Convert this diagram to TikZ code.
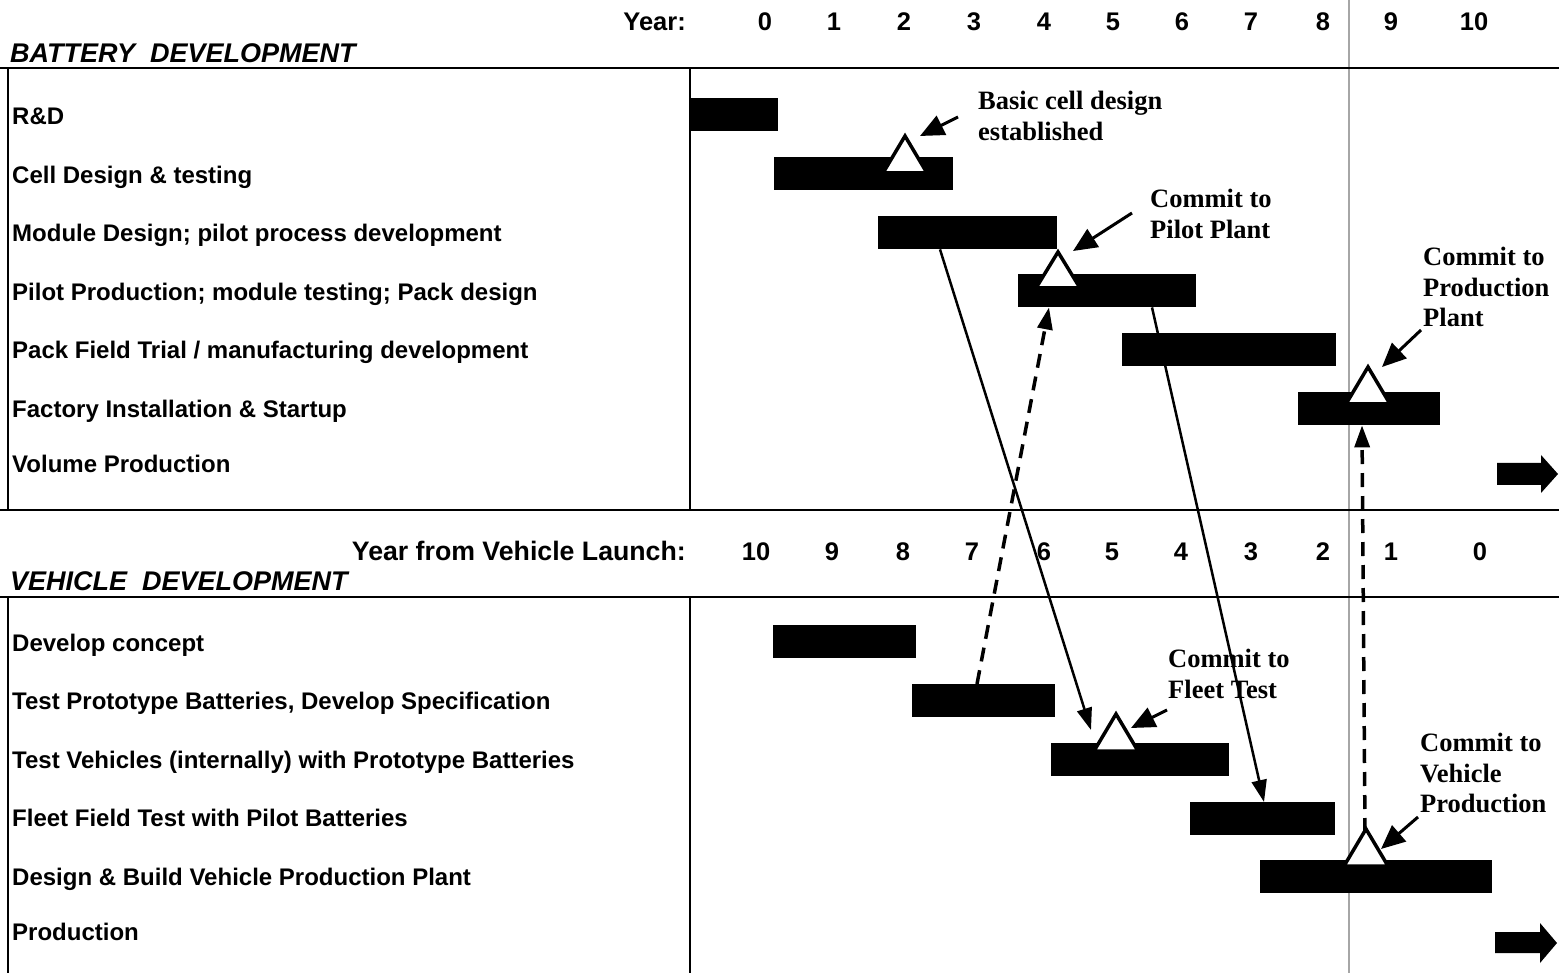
\documentclass[tikz,border=0pt]{standalone}
\usepackage{fontspec}
\setmainfont{Liberation Sans}
\newfontfamily\notefont{Liberation Serif}
\usetikzlibrary{positioning,arrows.meta}

\newcommand{\rowfont}{\fontsize{24}{28}\selectfont\bfseries}
\newcommand{\yearfont}{\fontsize{25.5}{30}\selectfont\bfseries}
\newcommand{\headfont}{\fontsize{27}{30}\selectfont\bfseries\itshape}
\newcommand{\milefont}{\fontsize{26.5}{30.5}\selectfont\notefont\bfseries}

\begin{document}
\begin{tikzpicture}[x=1pt, y=-1pt, >={Triangle[length=22pt,width=15pt]},
    frame/.style={line width=2.5pt},
    rowlabel/.style={anchor=base west, inner sep=0pt, font=\rowfont},
    yr/.style={anchor=base, inner sep=0pt, font=\yearfont},
    head/.style={anchor=base west, inner sep=0pt, font=\headfont},
    bar/.style={fill=black, anchor=north west, minimum height=33pt, inner sep=0pt},
    milestone/.style={draw=black, fill=white, line width=3.5pt},
    note/.style={anchor=north west, align=left, inner sep=0pt, font=\milefont},
    callout/.style={->, line width=3pt, >={Triangle[length=24pt,width=21pt]}},
    link/.style={->, line width=2.5pt},
    dlink/.style={->, line width=3.5pt, dash pattern=on 14pt off 9pt}]

\useasboundingbox (0,0) rectangle (1559,973);

% launch line through both charts
\draw[gray!70, line width=1.5pt] (1349,0) -- (1349,973);

% battery chart frame
\draw[frame] (0,68) -- (1559,68);
\draw[frame] (0,510) -- (1559,510);
\draw[frame] (8,68) -- (8,510);
\draw[frame] (690,68) -- (690,510);

% vehicle chart frame
\draw[frame] (0,597) -- (1559,597);
\draw[frame] (8,597) -- (8,973);
\draw[frame] (690,597) -- (690,973);

% year scale
\node[yr, anchor=base east] (yearlbl) at (686,31) {Year:};
\node[yr] (y0) at (765,31) {0};
\node[yr] (y1) at (834,31) {1};
\node[yr] (y2) at (904,31) {2};
\node[yr] (y3) at (974,31) {3};
\node[yr] (y4) at (1044,31) {4};
\node[yr] (y5) at (1113,31) {5};
\node[yr] (y6) at (1182,31) {6};
\node[yr] (y7) at (1251,31) {7};
\node[yr] (y8) at (1323,31) {8};
\node[yr] (y9) at (1391,31) {9};
\node[yr] (y10) at (1474,31) {10};

\node[yr, anchor=base east, font=\fontsize{26.7}{30}\selectfont\bfseries] (launchlbl) at (686,560) {Year from Vehicle Launch:};
\node[yr] (v10) at (756,560) {10};
\node[yr] (v9) at (832,560) {9};
\node[yr] (v8) at (903,560) {8};
\node[yr] (v7) at (972,560) {7};
\node[yr] (v6) at (1044,560) {6};
\node[yr] (v5) at (1112,560) {5};
\node[yr] (v4) at (1181,560) {4};
\node[yr] (v3) at (1251,560) {3};
\node[yr] (v2) at (1323,560) {2};
\node[yr] (v1) at (1391,560) {1};
\node[yr] (v0) at (1480,560) {0};

% section headings
\node[head] (battery) at (10,63) {BATTERY\ \ DEVELOPMENT};
\node[head] (vehicle) at (10,590) {VEHICLE\ \ DEVELOPMENT};

% battery tasks
\node[rowlabel] (lrd) at (12,125) {R\&D};
\node[rowlabel] (lcell) at (12,184) {Cell Design \& testing};
\node[rowlabel] (lmodule) at (12,242) {Module Design; pilot process development};
\node[rowlabel] (lpilot) at (12,301) {Pilot Production; module testing; Pack design};
\node[rowlabel] (lpack) at (12,359) {Pack Field Trial / manufacturing development};
\node[rowlabel] (lfactory) at (12,418) {Factory Installation \& Startup};
\node[rowlabel] (lvolume) at (12,472) {Volume Production};

\node[bar, minimum width=88pt] (rd) at (690,98) {};
\node[bar, minimum width=179pt] (cell) at (774,157) {};
\node[bar, minimum width=179pt] (module) at (878,216) {};
\node[bar, minimum width=178pt] (pilot) at (1018,274) {};
\node[bar, minimum width=214pt] (pack) at (1122,333) {};
\node[bar, minimum width=142pt] (factory) at (1298,392) {};
\fill (1497,463) -- (1541,463) -- (1541,455) -- (1558,474) -- (1541,493) -- (1541,485) -- (1497,485) -- cycle;

% vehicle tasks
\node[rowlabel] (lconcept) at (12,651) {Develop concept};
\node[rowlabel] (lproto) at (12,709) {Test Prototype Batteries, Develop Specification};
\node[rowlabel] (ltestveh) at (12,768) {Test Vehicles (internally) with Prototype Batteries};
\node[rowlabel] (lfleet) at (12,826) {Fleet Field Test with Pilot Batteries};
\node[rowlabel] (lplant) at (12,885) {Design \& Build Vehicle Production Plant};
\node[rowlabel] (lprod) at (12,940) {Production};

\node[bar, minimum width=143pt] (concept) at (773,625) {};
\node[bar, minimum width=143pt] (proto) at (912,684) {};
\node[bar, minimum width=178pt] (testveh) at (1051,743) {};
\node[bar, minimum width=145pt] (fleet) at (1190,802) {};
\node[bar, minimum width=232pt] (plant) at (1260,860) {};
\fill (1495,932) -- (1540,932) -- (1540,923) -- (1557,943) -- (1540,963) -- (1540,953) -- (1495,953) -- cycle;

% milestones
\draw[milestone] (905,136) -- (927,173) -- (883,173) -- cycle;
\draw[milestone] (1058,252) -- (1080,288) -- (1036,288) -- cycle;
\draw[milestone] (1368,367) -- (1390,404) -- (1346,404) -- cycle;
\draw[milestone] (1116,714) -- (1138,751) -- (1094,751) -- cycle;
\draw[milestone] (1366,829) -- (1388,866) -- (1344,866) -- cycle;

% milestone notes
\node[note] (basicnote) at (978,91) {Basic cell design\\established};
\node[note] (pilotnote) at (1150,189) {Commit to\\Pilot Plant};
\node[note] (prodnote) at (1423,247) {Commit to\\Production\\Plant};
\node[note] (fleetnote) at (1168,649) {Commit to\\Fleet Test};
\node[note] (vehnote) at (1420,733) {Commit to\\Vehicle\\Production};

\coordinate (basictail) at (958,117);
\coordinate (basictip) at (920,136);
\coordinate (pilottail) at (1132,213);
\coordinate (pilottip) at (1073,251);
\coordinate (prodtail) at (1421,330);
\coordinate (prodtip) at (1382,367);
\coordinate (fleettail) at (1167,710);
\coordinate (fleettip) at (1131,728);
\coordinate (vehtail) at (1418,817);
\coordinate (vehtip) at (1381,849);

\draw[callout] (basictail) -- (basictip);
\draw[callout] (pilottail) -- (pilottip);
\draw[callout] (prodtail) -- (prodtip);
\draw[callout] (fleettail) -- (fleettip);
\draw[callout] (vehtail) -- (vehtip);

% links between the two programmes
\coordinate (fleetgo) at (1091,730);
\coordinate (vehgo) at (1365,832);
\draw[link] ([xshift=62pt]module.south west) -- (fleetgo);
\draw[link] ([xshift=134pt]pilot.south west) -- ([xshift=74pt]fleet.north west);
\draw[dlink] ([xshift=65pt]proto.north west) -- ([xshift=31pt]pilot.south west);
\draw[dlink] (vehgo) -- ([xshift=64pt]factory.south west);

\end{tikzpicture}
\end{document}
